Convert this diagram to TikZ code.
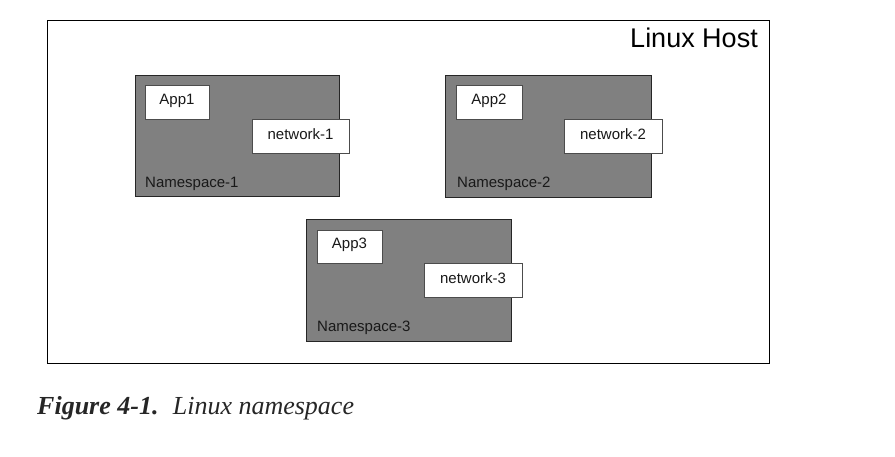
\documentclass[tikz,border=0pt]{standalone}
\usepackage{fontspec}
\setmainfont{Liberation Serif}
\newfontfamily\arialf{Liberation Sans}
\begin{document}
\begin{tikzpicture}[x=1pt,y=-1pt,
  hostbox/.style={draw=black,line width=1.3pt,fill=white,inner sep=0pt,anchor=north west},
  nsbox/.style={draw=black!85,line width=1pt,fill=black!50,inner sep=0pt,anchor=north west},
  inbox/.style={draw=black!70,line width=0.9pt,fill=white,inner sep=0pt},
  lbl/.style={font=\arialf\fontsize{15}{17}\selectfont,text=black!90,inner sep=0pt},
]
\useasboundingbox (0,0) rectangle (895,457);
\node[hostbox,minimum width=722pt,minimum height=343pt] (host) at (47,20) {};
\node[font=\arialf\fontsize{27}{30}\selectfont,anchor=north east,inner sep=0pt] (hostlbl) at (758,28) {Linux Host};
% namespace 1
\node[nsbox,minimum width=204pt,minimum height=121pt] (ns1box) at (135,75) {};
\node[inbox,minimum width=64pt,minimum height=34pt] (app1) at (177,102) {};
\node[lbl] (app1t) at (177,101) {App1};
\node[inbox,minimum width=97pt,minimum height=34pt] (net1) at (300.5,136) {};
\node[lbl] (net1t) at (300.5,134) {network-1};
\node[lbl,anchor=west] (ns1) at (145,184) {Namespace-1};
% namespace 2
\node[nsbox,minimum width=206pt,minimum height=122pt] (ns2box) at (445,75) {};
\node[inbox,minimum width=66pt,minimum height=34pt] (app2) at (489,102) {};
\node[lbl] (app2t) at (489,101) {App2};
\node[inbox,minimum width=98pt,minimum height=34pt] (net2) at (613,136) {};
\node[lbl] (net2t) at (613,134) {network-2};
\node[lbl,anchor=west] (ns2) at (457,184) {Namespace-2};
% namespace 3
\node[nsbox,minimum width=205pt,minimum height=122pt] (ns3box) at (306,219) {};
\node[inbox,minimum width=65pt,minimum height=33pt] (app3) at (349.5,246.5) {};
\node[lbl] (app3t) at (349.5,245) {App3};
\node[inbox,minimum width=98pt,minimum height=34pt] (net3) at (473,280) {};
\node[lbl] (net3t) at (473,278) {network-3};
\node[lbl,anchor=west] (ns3) at (317,328) {Namespace-3};
% caption
\node[anchor=base west,inner sep=0pt,font=\fontsize{26}{30}\selectfont,text=black!85] (cap) at (37,414) {\textbf{\textit{Figure 4-1.}}\hspace{0.55em}\textit{Linux namespace}};
\end{tikzpicture}
\end{document}
